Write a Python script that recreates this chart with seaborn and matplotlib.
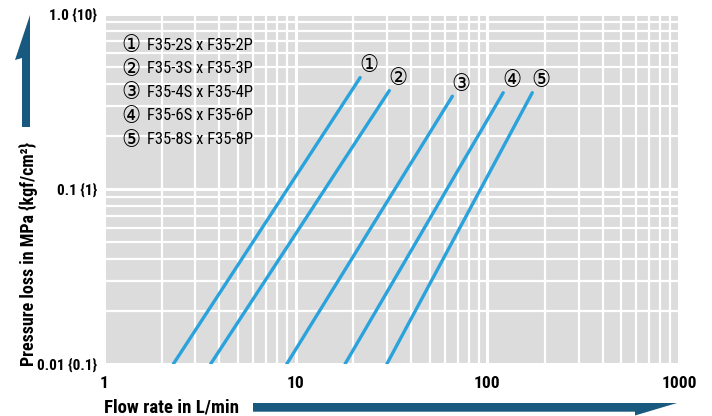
import numpy as np
import pandas as pd
import matplotlib
matplotlib.use('Agg')
import matplotlib.pyplot as plt
from matplotlib.patches import Polygon
from matplotlib.ticker import LogLocator, NullFormatter, FixedLocator, FixedFormatter
import seaborn as sns

# 圖表資料 (端點讀自原圖)
series = ['①', '②', '③', '④', '⑤']
models = ['F35-2S x F35-2P', 'F35-3S x F35-3P', 'F35-4S x F35-4P',
          'F35-6S x F35-6P', 'F35-8S x F35-8P']
flow_low = [2.30, 3.60, 8.98, 18.1, 29.9]
flow_high = [21.7, 30.8, 65.7, 121.0, 171.6]
loss_low = [0.01, 0.01, 0.01, 0.01, 0.01]
loss_high = [0.433, 0.365, 0.339, 0.355, 0.355]

x_ticks = [1, 10, 100, 1000]
x_ticklabels = ['1', '10', '100', '1000']
y_ticks = [0.01, 0.1, 1.0]
y_ticklabels = ['0.01 {0.1}', '0.1 {1}', '1.0 {10}']

line_color = '#2aa2dc'
arrow_color = '#17597f'
bg_color = '#dcdcdc'

df = pd.DataFrame({
    'series': np.repeat(series, 2),
    'flow': np.ravel(np.column_stack([flow_low, flow_high])),
    'loss': np.ravel(np.column_stack([loss_low, loss_high])),
})

sns.set_style('white')
plt.rcParams['font.family'] = ['Roboto Condensed', 'Roboto', 'DejaVu Sans']
plt.rcParams['font.stretch'] = 'condensed'
plt.rcParams['font.weight'] = 'bold'
plt.rcParams['text.color'] = 'black'
plt.rcParams['xtick.color'] = 'black'
plt.rcParams['ytick.color'] = 'black'

W, H = 712, 416
fig = plt.figure(figsize=(W / 100, H / 100), dpi=100)
ax = fig.add_axes([104 / W, 1 - 364 / H, 575 / W, 350 / H])
ax.set_facecolor(bg_color)

ax.set_xscale('log')
ax.set_yscale('log')
ax.set_xlim(1, 1000)
ax.set_ylim(0.01, 1.0)

sns.lineplot(data=df, x='flow', y='loss', hue='series', units='series',
             estimator=None, palette={s: line_color for s in series},
             linewidth=2.4, legend=False, ax=ax, zorder=3)

# 格線
ax.xaxis.set_minor_locator(LogLocator(base=10, subs=np.arange(2, 10)))
ax.yaxis.set_minor_locator(LogLocator(base=10, subs=np.arange(2, 10)))
ax.xaxis.set_minor_formatter(NullFormatter())
ax.yaxis.set_minor_formatter(NullFormatter())
ax.grid(which='major', color='white', linewidth=2.2)
ax.grid(which='minor', color='white', linewidth=1.6)
ax.set_axisbelow(True)

ax.xaxis.set_major_locator(FixedLocator(x_ticks))
ax.xaxis.set_major_formatter(FixedFormatter(x_ticklabels))
ax.yaxis.set_major_locator(FixedLocator(y_ticks))
ax.yaxis.set_major_formatter(FixedFormatter(y_ticklabels))
ax.tick_params(which='both', length=0)
ax.tick_params(axis='x', pad=9, labelsize=12.5)
ax.tick_params(axis='y', pad=5, labelsize=11)
for sp in ax.spines.values():
    sp.set_visible(False)
ax.set_xlabel('')
ax.set_ylabel('')

# 線端編號
circ_font = ['DejaVu Sans', 'Noto Sans CJK JP']
for s, fx, fy in zip(series, flow_high, loss_high):
    ax.annotate(s, (fx, fy), xytext=(6, 9), textcoords='offset points',
                ha='center', va='center', fontsize=17, fontweight='normal',
                family=circ_font)

# 型號說明
for i, (s, m) in enumerate(zip(series, models)):
    y = 0.911 - i * 0.0674
    ax.text(0.031, y, s, transform=ax.transAxes, ha='left', va='center',
            fontsize=17, fontweight='normal', family=circ_font)
    ax.text(0.075, y, m, transform=ax.transAxes, ha='left', va='center',
            fontsize=12, fontweight='normal')

# 軸標題
fig.text(28 / W, 1 - 366 / H, 'Pressure loss in MPa {kgf/cm²}', rotation=90,
         ha='center', va='bottom', fontsize=13)
fig.text(104 / W, 1 - 407 / H, 'Flow rate in L/min', ha='left', va='center',
         fontsize=13.5)


def px_poly(pts):
    return Polygon([(x / W, 1 - y / H) for x, y in pts], closed=True,
                   transform=fig.transFigure, facecolor=arrow_color,
                   edgecolor='none')


fig.patches.append(px_poly([(22, 127), (30, 127), (30, 15), (15, 60), (22, 58)]))
fig.patches.append(px_poly([(253, 403), (677, 403), (635, 415.5),
                            (635, 411.7), (253, 411.7)]))

plt.savefig('out.png', dpi=100)
